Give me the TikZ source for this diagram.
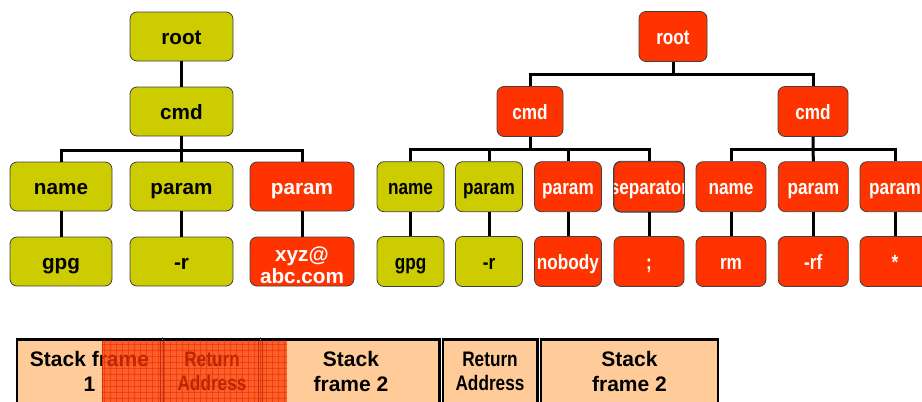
\documentclass[tikz,border=0pt]{standalone}
\usepackage{fontspec}
\setmainfont{Liberation Sans}
\newfontfamily\narrowfont[FakeStretch=0.83]{Liberation Sans}
\newfontfamily\stackfont[FakeStretch=0.82]{Liberation Sans}
\definecolor{treeyellow}{HTML}{CCCC00}
\definecolor{treered}{HTML}{FF3300}
\definecolor{peach}{HTML}{FFCC99}
\definecolor{gridred}{HTML}{D83000}
\tikzset{
  tbox/.style={rectangle, rounded corners=7pt, draw=black!75, line width=0.8pt,
               inner sep=0pt, align=center, text height=16pt, text depth=0pt},
  ybox/.style={tbox, fill=treeyellow, text=black},
  rbox/.style={tbox, fill=treered, text=white},
  lfont/.style={font=\fontsize{20.7}{22}\selectfont\bfseries},
  nfont/.style={font=\narrowfont\fontsize{20.7}{22}\selectfont\bfseries},
  lsize/.style={minimum width=103pt, minimum height=49pt},
  conn/.style={line width=3pt, black},
  stackcell/.style={draw=black, line width=2.5pt, fill=peach},
  celltext/.style={inner sep=0pt, align=center, font=\fontsize{21}{24.3}\selectfont\bfseries},
  narrowcelltext/.style={inner sep=0pt, align=center, font=\stackfont\fontsize{21}{24.3}\selectfont\bfseries},
  divider/.style={line width=0.8pt, black!85},
  gridline/.style={line width=0.5pt, gridred, opacity=0.55},
}
\begin{document}
\begin{tikzpicture}[x=1pt, y=-1pt]
\useasboundingbox (0,0) rectangle (922,402);
\clip (0,0) rectangle (922,402);

% ---------- first parse tree: gpg -r xyz@abc.com ----------
\node[ybox, lfont, lsize] (lroot)  at (181.5,36.5)  {root};
\node[ybox, lfont, lsize] (lcmd)   at (181.5,111.5) {cmd};
\node[ybox, lfont, lsize, minimum width=102pt] (lname)  at (61,186.5)    {name};
\node[ybox, lfont, lsize] (lparam) at (181.5,186.5) {param};
\node[rbox, lfont, lsize, minimum width=104pt] (lparamx) at (302,186.5)  {param};
\node[ybox, lfont, lsize, minimum width=102pt] (lgpg)   at (61,261.5)    {gpg};
\node[ybox, lfont, lsize] (lr)     at (181.5,261.5) {-r};
\node[rbox, lfont, lsize, minimum width=104pt, text height=43pt] (lmail) at (302,261.5)
  {\begin{tabular}[b]{@{}c@{}}xyz@\\abc.com\end{tabular}};

\coordinate (lbus) at (181.5,150);
\draw[conn] (lroot.south) -- (lcmd.north);
\draw[conn] (lcmd.south) -- (lparam.north);
\draw[conn] (lname.north) |- (lbus) -| (lparamx.north);
\draw[conn] (lname.south) -- (lgpg.north);
\draw[conn] (lparam.south) -- (lr.north);
\draw[conn] (lparamx.south) -- (lmail.north);

% ---------- second parse tree: gpg -r nobody ; rm -rf * ----------
\tikzset{rsize/.style={minimum width=#1, minimum height=50pt}}
\node[rbox, nfont, rsize=68pt] (rroot) at (673,36.5)  {root};
\node[rbox, nfont, rsize=66pt] (rcmdA) at (530,111.5) {cmd};
\node[rbox, nfont, rsize=70pt] (rcmdB) at (813,111.5) {cmd};

\node[ybox, nfont, rsize=67pt] (rnameA)  at (410.5,186.7) {name};
\node[ybox, nfont, rsize=67pt] (rparamA) at (489,186.7)   {param};
\node[rbox, nfont, rsize=67pt] (rparamB) at (568,186.7)   {param};
\node[rbox, nfont, rsize=70pt] (rsep)    at (649,186.7)   {\makebox[60pt][c]{separator}};
\node[rbox, nfont, rsize=70pt] (rnameB)  at (731,186.7)   {name};
\node[rbox, nfont, rsize=70pt] (rparamC) at (813.3,186.7) {param};
\node[rbox, nfont, rsize=70pt] (rparamD) at (895,186.7)   {param};
\draw[black!75, line width=0.8pt, rounded corners=7pt]
  (rsep.south west) rectangle (rsep.north east);

\node[ybox, nfont, rsize=67pt] (rgpg)    at (410.5,261.5) {gpg};
\node[ybox, nfont, rsize=67pt] (rr)      at (489,261.5)   {-r};
\node[rbox, nfont, rsize=67pt] (rnobody) at (568,261.5)   {nobody};
\node[rbox, nfont, rsize=70pt] (rsemi)   at (649,261.5)   {;};
\node[rbox, nfont, rsize=70pt] (rrm)     at (731,261.5)   {rm};
\node[rbox, nfont, rsize=70pt] (rrf)     at (813.3,261.5) {-rf};
\node[rbox, nfont, rsize=70pt] (rstar)   at (895,261.5)   {*};

\coordinate (rbusTop) at (673,74.3);
\coordinate (rbusA) at (530,149);
\coordinate (rbusB) at (813.3,149);
\draw[conn] (rroot.south) -- (rbusTop);
\draw[conn] (rcmdA.north) |- (rbusTop) -| (rcmdB.north);
\draw[conn] (rcmdA.south) -- (rbusA);
\draw[conn] (rnameA.north) |- (rbusA) -| (rsep.north);
\draw[conn] (rparamA.north) -- (rparamA.north |- rbusA);
\draw[conn] (rparamB.north) -- (rparamB.north |- rbusA);
\draw[conn] (rcmdB.south) -- (rparamC.north);
\draw[conn] (rnameB.north) |- (rbusB) -| (rparamD.north);
\draw[conn] (rnameA.south) -- (rgpg.north);
\draw[conn] (rparamA.south) -- (rr.north);
\draw[conn] (rparamB.south) -- (rnobody.north);
\draw[conn] (rsep.south) -- (rsemi.north);
\draw[conn] (rnameB.south) -- (rrm.north);
\draw[conn] (rparamC.south) -- (rrf.north);
\draw[conn] (rparamD.south) -- (rstar.north);

% ---------- stack layouts ----------
% overwritten stack: frame 1, return address, frame 2
\path[stackcell] (17,339.5) rectangle (439.5,430);
\node[celltext] (sfone) at (89.5,371.5) {Stack frame\\1};
\node[narrowcelltext] (raone) at (212,371.5) {Return\\Address};
\node[celltext] (sftwo) at (351,371.5) {Stack\\frame 2};
\foreach \x in {162,260.5} {
  \draw[divider] (\x-1.8,340.8) -- (\x-1.8,402);
  \draw[divider] (\x+1.8,340.8) -- (\x+1.8,402);
  \draw[line width=0.6pt, black!40, dash pattern=on 1pt off 1pt] (\x,337) -- (\x,402);
}
% overflowed region
\begin{scope}
  \clip (101.5,340.8) rectangle (287,402);
  \fill[treered, opacity=0.72] (101.5,340.8) rectangle (287,402);
  \foreach \x in {104,110,...,290} \draw[gridline] (\x,338) -- (\x,404);
  \foreach \y in {344,350,...,404} \draw[gridline] (100,\y) -- (290,\y);
  \draw[gridred, line width=0.8pt] (102,340.8) -- (102,402);
\end{scope}

% intact stack: return address, frame 2
\path[stackcell] (443,339.5) rectangle (537.5,430);
\path[stackcell] (541,339.5) rectangle (718,430);
\node[narrowcelltext] (ratwo) at (490,371.5) {Return\\Address};
\node[celltext] (sfthree) at (629.5,371.5) {Stack\\frame 2};
\end{tikzpicture}
\end{document}
